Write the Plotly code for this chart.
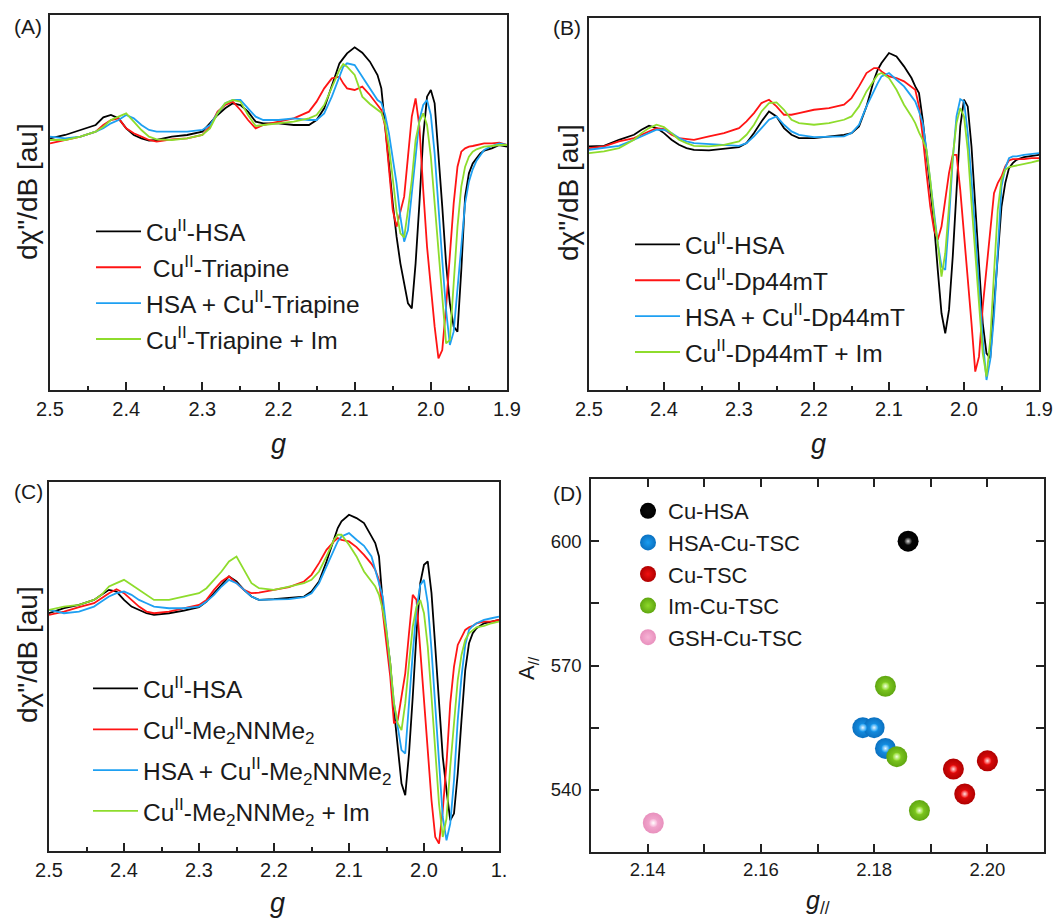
import plotly.graph_objects as go

# ---------------- data ----------------
G = [2.50, 2.48, 2.46, 2.44, 2.43, 2.42, 2.41, 2.40, 2.39, 2.38, 2.37, 2.36, 2.34, 2.32, 2.30,
     2.29, 2.28, 2.27, 2.26, 2.25, 2.24, 2.23, 2.22, 2.20, 2.18, 2.16, 2.15, 2.14, 2.13, 2.12,
     2.115, 2.11, 2.10, 2.09, 2.08, 2.07, 2.065, 2.06, 2.055, 2.05, 2.045, 2.04, 2.035, 2.03,
     2.025, 2.02, 2.015, 2.01, 2.005, 2.00, 1.995, 1.99, 1.985, 1.98, 1.975, 1.97, 1.965, 1.96,
     1.955, 1.95, 1.945, 1.94, 1.935, 1.93, 1.92, 1.91, 1.90]

# Panel A
A_HSA = [15, 25, 40, 55, 78, 85, 75, 45, 25, 15, 8, 10, 20, 25, 35, 60, 85, 105, 120, 115, 95, 65, 60,
         60, 55, 55, 70, 105, 170, 240, 255, 270, 288, 272, 245, 205, 165, 60, -60, -180, -280, -360,
         -420, -480, -495, -360, -180, 20, 140, 160, 120, -30, -190, -360, -480, -550, -565, -380,
         -160, -90, -60, -45, -30, -22, -15, -5, -10]
A_TRI = [0, 10, 20, 35, 55, 70, 75, 45, 30, 20, 10, 5, 12, 15, 25, 50, 95, 115, 125, 100, 70, 45, 55,
         65, 75, 95, 125, 165, 195, 200, 180, 165, 160, 170, 145, 115, 100, 50, -70, -200, -250, -200,
         -160, -40, 80, 135, 50, -140, -310, -430, -550, -645, -620, -490, -340, -180, -70, -25,
         -15, -10, -8, -5, -3, 0, 0, 2, -5]
A_HSA_TRI = [20, 15, 20, 35, 45, 60, 70, 85, 75, 55, 40, 35, 35, 35, 40, 55, 90, 120, 130, 130, 105, 80,
             70, 70, 75, 70, 70, 90, 140, 200, 230, 240, 235, 200, 165, 130, 122, 85, 30, -50, -120,
             -220, -295, -260, -140, -40, 70, 115, 130, 85, -30, -200, -350, -500, -605, -565, -430,
             -290, -180, -115, -78, -52, -35, -20, -8, 0, -5]
A_TRI_IM = [10, 10, 20, 35, 50, 70, 80, 90, 65, 40, 20, 12, 10, 15, 25, 45, 90, 120, 130, 125, 85, 52,
            55, 60, 65, 75, 85, 115, 170, 220, 238, 230, 205, 140, 118, 102, 92, 60, -10, -105, -205,
            -270, -282, -200, -110, 10, 65, 90, 55, -40, -180, -330, -470, -600, -590, -430, -250,
            -130, -70, -40, -25, -18, -15, -10, -8, -5, -5]

# Panel B
B_HSA = [20, 22, 40, 55, 70, 82, 75, 60, 40, 25, 15, 10, 8, 12, 18, 30, 60, 95, 125, 110, 75, 55, 45,
         45, 50, 55, 60, 80, 140, 220, 250, 270, 300, 290, 260, 225, 200, 180, 100, -5, -90, -210,
         -350, -480, -540, -470, -310, -110, 80, 160, 140, 20, -150, -340, -510, -600, -615, -460,
         -310, -160, -90, -45, -30, -20, -12, -8, -5]
B_DP = [15, 20, 35, 45, 55, 65, 75, 72, 55, 45, 42, 40, 50, 60, 75, 95, 120, 150, 160, 140, 115, 115,
        120, 130, 135, 145, 165, 200, 240, 255, 255, 245, 230, 225, 215, 200, 190, 140, 50, -60, -160,
        -230, -260, -220, -140, -60, -5, -5, -110, -240, -360, -510, -655, -610, -460, -340, -220,
        -120, -90, -70, -40, -22, -18, -18, -18, -15, -15]
B_HSA_DP = [10, 15, 22, 40, 50, 60, 70, 70, 60, 45, 35, 30, 28, 25, 22, 30, 50, 75, 100, 110, 85, 65,
            55, 48, 48, 50, 60, 85, 140, 190, 210, 230, 240, 220, 200, 170, 155, 125, 90, 10, -80,
            -180, -270, -340, -350, -200, -20, 110, 162, 155, 60, -80, -250, -410, -560, -680, -620,
            -490, -290, -100, -45, -15, -10, -10, -5, -2, 0]
B_DP_IM = [0, 5, 15, 40, 60, 75, 85, 78, 60, 40, 30, 22, 20, 25, 35, 55, 85, 125, 150, 152, 130, 100,
           90, 85, 90, 100, 110, 140, 185, 220, 235, 240, 225, 190, 145, 110, 90, 62, 40, 10, -80,
           -190, -270, -370, -300, -160, -10, 90, 135, 110, 10, -150, -300, -440, -600, -670, -560,
           -360, -170, -80, -50, -42, -40, -38, -32, -28, -22]

# Panel C
C_HSA = [10, 25, 35, 50, 65, 80, 75, 50, 30, 20, 10, 5, 10, 18, 28, 45, 70, 95, 120, 105, 80, 60, 50,
         52, 55, 60, 75, 105, 165, 235, 265, 285, 305, 295, 280, 240, 220, 180, 40, -55, -140, -280,
         -400, -500, -535, -410, -240, -50, 100, 155, 165, 70, -90, -260, -420, -520, -610, -590,
         -470, -310, -160, -80, -50, -35, -20, -15, -10]
C_ME = [5, 15, 28, 40, 55, 70, 82, 70, 50, 30, 15, 10, 15, 25, 35, 50, 80, 105, 120, 100, 80, 70, 72,
        80, 88, 105, 125, 160, 200, 225, 235, 230, 225, 208, 185, 158, 140, 110, 15, -90, -180, -320,
        -310, -240, -170, -50, 65, 50, -100, -260, -430, -550, -660, -680, -580, -440, -260, -150,
        -85, -60, -40, -32, -28, -20, -15, -15, -10]
C_HSA_ME = [20, 10, 15, 30, 45, 60, 70, 75, 65, 50, 40, 30, 25, 25, 30, 45, 65, 90, 110, 100, 80, 60,
            50, 50, 52, 58, 70, 100, 150, 200, 225, 240, 250, 230, 212, 180, 140, 105, 60, -40, -140,
            -260, -330, -400, -410, -250, -110, 20, 95, 110, 40, -100, -270, -440, -600, -670, -620,
            -490, -310, -180, -85, -40, -28, -20, -10, -5, 0]
C_ME_IM = [20, 30, 35, 50, 65, 90, 100, 110, 95, 80, 65, 50, 50, 60, 70, 85, 110, 135, 165, 180, 140,
           100, 85, 80, 90, 100, 110, 135, 180, 230, 245, 245, 215, 180, 135, 105, 90, 65, 20, -45,
           -140, -260, -320, -340, -260, -140, -30, 30, 50, 10, -90, -240, -400, -560, -660, -605,
           -450, -310, -190, -115, -70, -50, -40, -32, -28, -20, -15]

# Panel D
D_NAMES = ["Cu-HSA", "HSA-Cu-TSC", "Cu-TSC", "Im-Cu-TSC", "GSH-Cu-TSC"]
D_G = [[2.186], [2.178, 2.180, 2.182], [2.194, 2.196, 2.200], [2.182, 2.184, 2.188], [2.141]]
D_A = [[600], [555, 555, 550], [545, 539, 547], [565, 548, 535], [532]]

X_TICKS = [2.5, 2.4, 2.3, 2.2, 2.1, 2.0, 1.9]
X_TEXT_AB = ["2.5", "2.4", "2.3", "2.2", "2.1", "2.0", "1.9"]
X_TEXT_C = ["2.5", "2.4", "2.3", "2.2", "2.1", "2.0", "1."]
D_XTICKS = [2.14, 2.16, 2.18, 2.20]
D_XTEXT = ["2.14", "2.16", "2.18", "2.20"]
D_YTICKS = [540, 570, 600]

# ---------------- style ----------------
W, H = 1064, 919
FONT = "Arial, Liberation Sans, sans-serif"
TXT = "#1a1a1a"
LINE_COLORS = ["#000000", "#ff1414", "#1ea0f2", "#8edc2c"]
SPH = [("#0a0a0a", "#000000", "#d8d8d8"),
       ("#1a9cf0", "#0a70c0", "#e8f6ff"),
       ("#f01010", "#b00000", "#ffe0e0"),
       ("#8ed82a", "#5fa610", "#f4ffe0"),
       ("#f7b3d6", "#e890bd", "#ffffff")]


def px(x):
    return x / W


def py(y):
    return 1 - y / H


fig = go.Figure()

spectra = [
    ("x", "y", "legend", [A_HSA, A_TRI, A_HSA_TRI, A_TRI_IM],
     ["Cu<sup>II</sup>-HSA", "\u00a0Cu<sup>II</sup>-Triapine", "HSA + Cu<sup>II</sup>-Triapine",
      "Cu<sup>II</sup>-Triapine + Im"]),
    ("x2", "y2", "legend2", [B_HSA, B_DP, B_HSA_DP, B_DP_IM],
     ["Cu<sup>II</sup>-HSA", "Cu<sup>II</sup>-Dp44mT", "HSA + Cu<sup>II</sup>-Dp44mT",
      "Cu<sup>II</sup>-Dp44mT + Im"]),
    ("x3", "y3", "legend3", [C_HSA, C_ME, C_HSA_ME, C_ME_IM],
     ["Cu<sup>II</sup>-HSA", "Cu<sup>II</sup>-Me<sub>2</sub>NNMe<sub>2</sub>",
      "HSA + Cu<sup>II</sup>-Me<sub>2</sub>NNMe<sub>2</sub>",
      "Cu<sup>II</sup>-Me<sub>2</sub>NNMe<sub>2</sub> + Im"]),
]

for xa, ya, lg, series, names in spectra:
    for i, (vals, nm) in enumerate(zip(series, names)):
        fig.add_trace(go.Scatter(x=G, y=vals, mode="lines", name=nm, xaxis=xa, yaxis=ya,
                                 legend=lg, legendgroup=lg + str(i),
                                 line=dict(color=LINE_COLORS[i], width=1.8)))

for i, (nm, gx, ay) in enumerate(zip(D_NAMES, D_G, D_A)):
    base, edge, hi = SPH[i]
    fig.add_trace(go.Scatter(x=gx, y=ay, mode="markers", name=nm, xaxis="x4", yaxis="y4",
                             legend="legend4",
                             marker=dict(size=21, color=edge, line=dict(width=0),
                                         gradient=dict(type="radial", color=base))))
    fig.add_trace(go.Scatter(x=gx, y=ay, mode="markers", showlegend=False, xaxis="x4", yaxis="y4",
                             hoverinfo="skip",
                             marker=dict(size=8, color=base, line=dict(width=0),
                                         gradient=dict(type="radial", color=hi))))

frame = dict(showline=True, linecolor="#222222", linewidth=1.5, mirror=True,
             showgrid=False, zeroline=False, automargin=False)
tickfont = dict(family=FONT, size=20, color=TXT)

boxes = {
    "A": (50, 507, 15, 390),
    "B": (589, 1039, 18, 390),
    "C": (49, 499, 482, 851),
    "D": (591, 1044, 479, 852),
}


def xdom(b):
    return [px(b[0]), px(b[1])]


def ydom(b):
    return [py(b[3]), py(b[2])]


spec_x = dict(range=[2.5, 1.9], tickmode="array", tickvals=X_TICKS, ticks="inside", ticklen=8,
              tickwidth=1.5, tickcolor="#222222", tickfont=tickfont,
              minor=dict(dtick=0.05, tick0=1.9, ticks="inside", ticklen=4, tickwidth=1.5,
                         tickcolor="#222222"), **frame)
spec_y = dict(showticklabels=False, ticks="", **frame)

fig.update_layout(
    xaxis=dict(domain=xdom(boxes["A"]), anchor="y", ticktext=X_TEXT_AB, **spec_x),
    yaxis=dict(domain=ydom(boxes["A"]), anchor="x", range=[-740, 385], **spec_y),
    xaxis2=dict(domain=xdom(boxes["B"]), anchor="y2", ticktext=X_TEXT_AB, **spec_x),
    yaxis2=dict(domain=ydom(boxes["B"]), anchor="x2", range=[-710, 405], **spec_y),
    xaxis3=dict(domain=xdom(boxes["C"]), anchor="y3", ticktext=X_TEXT_C, **spec_x),
    yaxis3=dict(domain=ydom(boxes["C"]), anchor="x3", range=[-702, 403], **spec_y),
    xaxis4=dict(domain=xdom(boxes["D"]), anchor="y4", range=[2.13, 2.21], tickmode="array",
                tickvals=D_XTICKS, ticktext=D_XTEXT, ticks="inside", ticklen=8, tickwidth=1.5,
                tickcolor="#222222", tickfont=dict(family=FONT, size=18.5, color=TXT),
                minor=dict(dtick=0.01, tick0=2.13, ticks="inside", ticklen=8, tickwidth=1.5,
                           tickcolor="#222222"),
                showline=True, linecolor="#222222", linewidth=1.5, mirror="ticks",
                showgrid=False, zeroline=False, automargin=False),
    yaxis4=dict(domain=ydom(boxes["D"]), anchor="x4", range=[525, 615], tickmode="array",
                tickvals=D_YTICKS, ticks="inside", ticklen=8, tickwidth=1.5, tickcolor="#222222",
                tickfont=dict(family=FONT, size=18.5, color=TXT), ticklabelstandoff=4,
                minor=dict(dtick=15, tick0=525, ticks="inside", ticklen=8, tickwidth=1.5,
                           tickcolor="#222222"),
                showline=True, linecolor="#222222", linewidth=1.5, mirror="ticks",
                showgrid=False, zeroline=False, automargin=False),
    width=W, height=H, margin=dict(l=0, r=0, t=0, b=0, pad=0, autoexpand=False),
    paper_bgcolor="white", plot_bgcolor="white",
    font=dict(family=FONT, color=TXT),
    showlegend=True,
)

leg_common = dict(bgcolor="rgba(0,0,0,0)", borderwidth=0, xanchor="left", yanchor="top",
                  itemwidth=45, tracegroupgap=1, itemclick=False, itemdoubleclick=False)
fig.update_layout(
    legend=dict(x=px(91), y=py(209), font=dict(family=FONT, size=24.5, color=TXT), **leg_common),
    legend2=dict(x=px(630), y=py(222), font=dict(family=FONT, size=24.5, color=TXT), **leg_common),
    legend3=dict(x=px(88), y=py(666), font=dict(family=FONT, size=24.5, color=TXT),
                 **{**leg_common, "tracegroupgap": 6}),
    legend4=dict(x=px(628), y=py(490), font=dict(family=FONT, size=22, color=TXT),
                 **{**leg_common, "itemwidth": 30, "tracegroupgap": 0}),
)

ann = []


def add_text(x, y, text, size, angle=0):
    ann.append(dict(x=px(x), y=py(y), xref="paper", yref="paper", text=text, showarrow=False,
                    textangle=angle, xanchor="center", yanchor="middle",
                    font=dict(family=FONT, size=size, color=TXT)))


add_text(28, 27, "(A)", 21)
add_text(567, 28, "(B)", 21)
add_text(28, 492, "(C)", 21)
add_text(567, 493, "(D)", 21)
YT = "d\u03c7\"/dB [au]"
add_text(27, 192, YT, 28, -90)
add_text(568, 193, YT, 28, -90)
add_text(27, 655, YT, 28, -90)
add_text(278, 444, "<i>g</i>", 27)
add_text(818, 444, "<i>g</i>", 27)
add_text(277, 903, "<i>g</i>", 27)
add_text(818, 902, "<i>g</i><sub>//</sub>", 25)
add_text(528, 668, "A<sub>//</sub>", 22, -90)
fig.update_layout(annotations=ann)

fig.write_html("out.html")
